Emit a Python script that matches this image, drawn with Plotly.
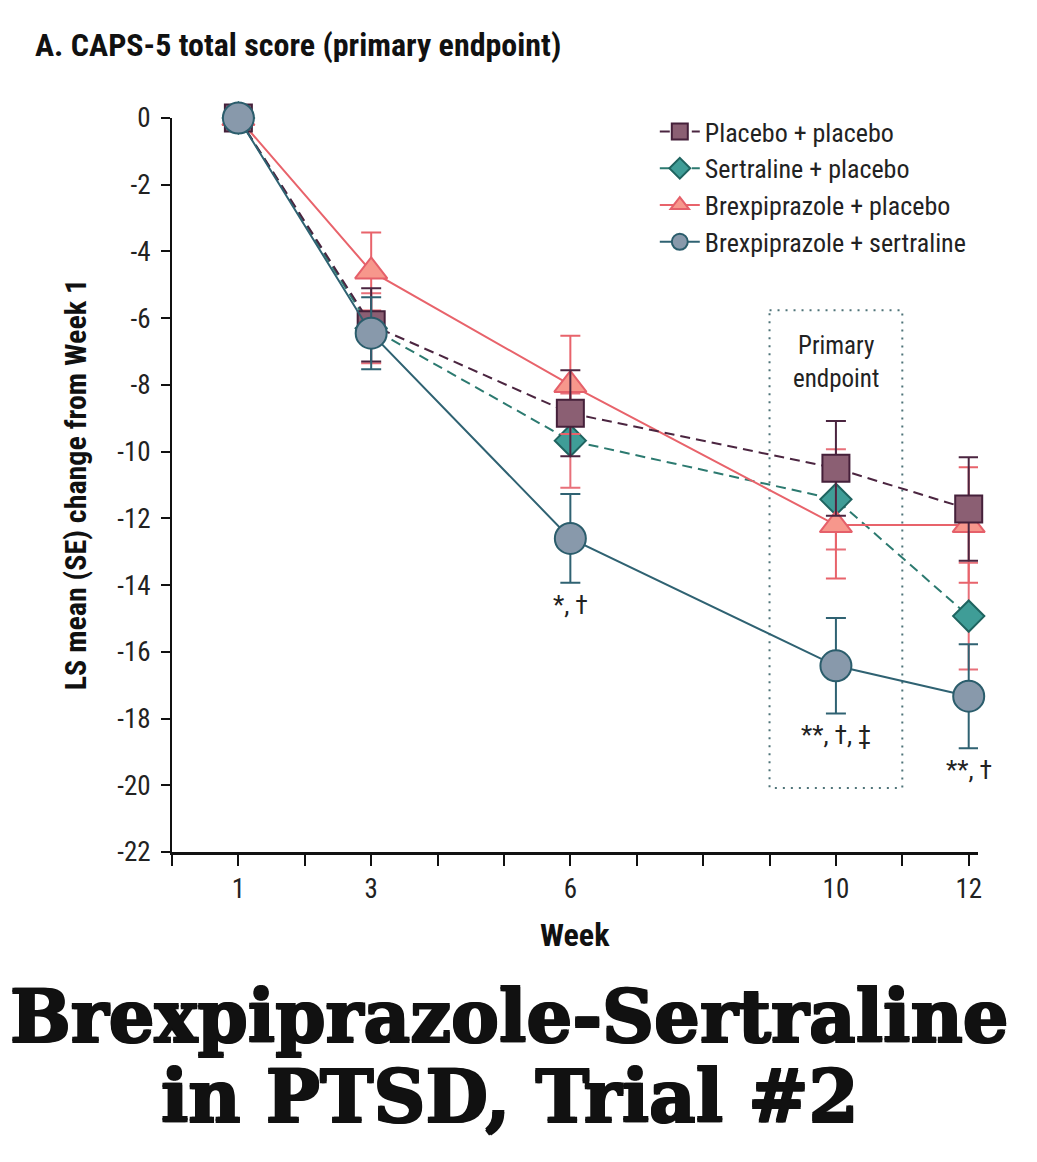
import plotly.graph_objects as go

weeks = [1, 3, 6, 10, 12]
placebo_placebo = [0, -6.2, -8.85, -10.5, -11.72]
placebo_placebo_se = [0, 1.1, 1.29, 1.42, 1.55]
sertraline_placebo = [0, -6.3, -9.67, -11.43, -14.93]
sertraline_placebo_se = [0, 1.05, 1.41, 1.5, 1.6]
brex_placebo = [0, -4.6, -8.0, -12.2, -12.2]
brex_placebo_se = [0, 1.17, 1.47, 1.6, 1.73]
brex_sertraline = [0, -6.45, -12.6, -16.42, -17.33]
brex_sertraline_se = [0, 1.08, 1.33, 1.43, 1.56]

x_tickvals = list(range(0, 13))
x_ticktext = ["", "1", "", "3", "", "", "6", "", "", "", "10", "", "12"]
y_tickvals = [0, -2, -4, -6, -8, -10, -12, -14, -16, -18, -20, -22]
y_ticktext = ["0", "-2", "-4", "-6", "-8", "-10", "-12", "-14", "-16", "-18", "-20", "-22"]

sig_labels = ["*, †", "**, †, ‡", "**, †"]
sig_x = [6, 10, 12]
sig_y = [-14.6, -18.5, -19.55]

FONT = "Liberation Sans Narrow, Roboto Condensed, Roboto, sans-serif"

fig = go.Figure()

series = [
    dict(name="Sertraline + placebo", y=sertraline_placebo, se=sertraline_placebo_se,
         symbol="diamond", size=24, fill="#3f9d97", edge="#1f6460", line="#2c7a70",
         dash="10px,6px", err="#e8707a", rank=2),
    dict(name="Brexpiprazole + placebo", y=brex_placebo, se=brex_placebo_se,
         symbol="triangle-up", size=28, fill="#f7978c", edge="#e5606a", line="#e8636b",
         dash="solid", err="#e8636b", rank=3),
    dict(name="Placebo + placebo", y=placebo_placebo, se=placebo_placebo_se,
         symbol="square", size=27, fill="#8b5f73", edge="#45203a", line="#4b2540",
         dash="10px,6px", err="#4b2540", rank=1),
    dict(name="Brexpiprazole + sertraline", y=brex_sertraline, se=brex_sertraline_se,
         symbol="circle", size=31, fill="#8899ab", edge="#2b5d6c", line="#2f6272",
         dash="solid", err="#2f6272", rank=4),
]

for s in series:
    fig.add_trace(go.Scatter(
        x=weeks, y=s["y"], name=s["name"], mode="lines+markers",
        line=dict(color=s["line"], width=2, dash=s["dash"]),
        marker=dict(symbol=s["symbol"], size=s["size"], color=s["fill"],
                    line=dict(color=s["edge"], width=2)),
        error_y=dict(type="data", array=s["se"], color=s["err"], thickness=2, width=10),
        legendrank=s["rank"], cliponaxis=False,
    ))

fig.add_shape(type="rect", xref="x", yref="y", x0=9, x1=11, y0=-5.76, y1=-20.08,
              line=dict(color="#4f7479", width=2, dash="2px,6px"), layer="below")

fig.add_annotation(x=10, y=-7.3, xref="x", yref="y", text="Primary<br>endpoint",
                   showarrow=False, font=dict(family=FONT, size=25, color="#222"))

for t, xx, yy in zip(sig_labels, sig_x, sig_y):
    fig.add_annotation(x=xx, y=yy, xref="x", yref="y", text=t, showarrow=False,
                       font=dict(family=FONT, size=26, color="#222"))

# panel title
fig.add_annotation(x=-0.1725, y=1.0995, xref="paper", yref="paper",
                   text="<b>A. CAPS-5 total score (primary endpoint)</b>",
                   showarrow=False, xanchor="left", yanchor="middle",
                   font=dict(family=FONT, size=32, color="#111"))

# axis titles
fig.add_annotation(x=-0.120, y=0.5, xref="paper", yref="paper",
                   text="<b>LS mean (SE) change from Week 1</b>", textangle=-90,
                   showarrow=False, xanchor="center", yanchor="middle",
                   font=dict(family=FONT, size=30, color="#111"))
fig.add_annotation(x=0.5, y=-0.113, xref="paper", yref="paper",
                   text="<b>Week</b>", showarrow=False, xanchor="center", yanchor="middle",
                   font=dict(family=FONT, size=32, color="#111"))

# big caption
shadow = "1px 1px 0 #111, -1px -1px 0 #111, 1px -1px 0 #111, -1px 1px 0 #111"
for txt, yy in [("Brexpiprazole-Sertraline", -0.2240), ("in PTSD, Trial #2", -0.3325)]:
    fig.add_annotation(x=0.419, y=yy, xref="paper", yref="paper", text="<b>" + txt + "</b>",
                       showarrow=False, xanchor="center", yanchor="middle",
                       font=dict(family="DejaVu Serif, serif", size=72, color="#111",
                                 shadow=shadow))

fig.update_layout(
    width=1029, height=1146,
    margin=dict(l=164, r=59, t=110, b=302),
    paper_bgcolor="white", plot_bgcolor="white",
    showlegend=True,
    legend=dict(x=0.599, y=1.0136, xanchor="left", yanchor="top",
                font=dict(family=FONT, size=26, color="#222"),
                bgcolor="rgba(0,0,0,0)", tracegroupgap=0, itemwidth=40),
    xaxis=dict(range=[0, 12.14], tickvals=x_tickvals, ticktext=x_ticktext,
               showgrid=False, zeroline=False, showline=True, linecolor="#111", linewidth=3,
               ticks="outside", ticklen=11, tickwidth=2, tickcolor="#111",
               tickfont=dict(family=FONT, size=27, color="#222")),
    yaxis=dict(range=[-22, 0], tickvals=y_tickvals, ticktext=y_ticktext,
               showgrid=False, zeroline=False, showline=True, linecolor="#111", linewidth=2,
               ticks="outside", ticklen=9, tickwidth=2, tickcolor="#111",
               ticklabelstandoff=5,
               tickfont=dict(family=FONT, size=27, color="#222")),
)

fig.write_html("out.html")
